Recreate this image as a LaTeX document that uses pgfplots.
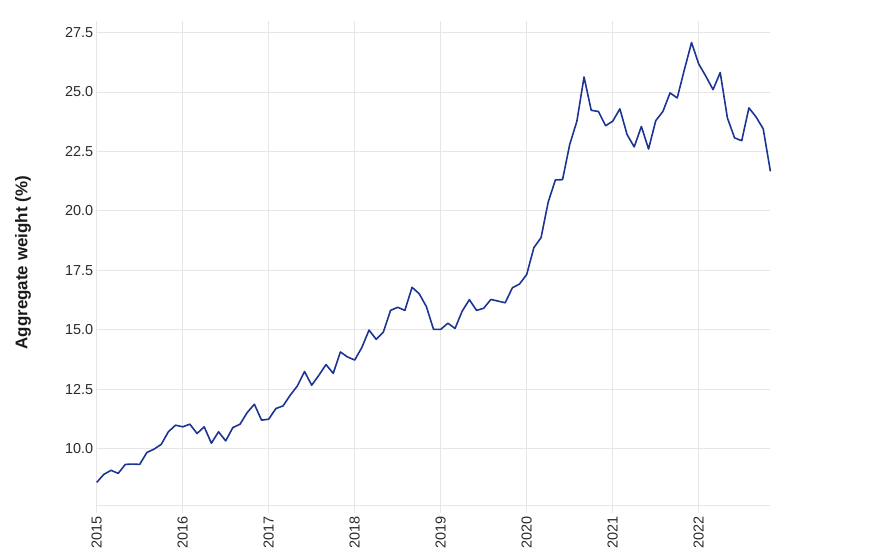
\documentclass[border=0pt]{standalone}
\usepackage{fontspec}
\setmainfont{Liberation Sans}
\usepackage{pgfplots}
\pgfplotsset{compat=1.18}
\usepackage{pgfplotstable}

\definecolor{seriesblue}{HTML}{1C3494}
\definecolor{gridgray}{HTML}{E6E6E6}
\definecolor{ticktext}{HTML}{2B2B2B}
\definecolor{labeltext}{HTML}{1A1A1A}

% month index (0 = Jan 2015), aggregate weight in %
\pgfplotstableread{
m v
0 8.57
1 8.91
2 9.08
3 8.95
4 9.33
5 9.34
6 9.33
7 9.83
8 9.97
9 10.17
10 10.70
11 10.98
12 10.91
13 11.02
14 10.63
15 10.91
16 10.22
17 10.70
18 10.32
19 10.88
20 11.02
21 11.51
22 11.86
23 11.19
24 11.23
25 11.68
26 11.79
27 12.24
28 12.63
29 13.24
30 12.66
31 13.08
32 13.53
33 13.16
34 14.06
35 13.85
36 13.72
37 14.25
38 14.98
39 14.59
40 14.90
41 15.81
42 15.94
43 15.81
44 16.78
45 16.51
46 15.97
47 15.01
48 15.01
49 15.27
50 15.05
51 15.78
52 16.26
53 15.81
54 15.90
55 16.27
56 16.20
57 16.13
58 16.76
59 16.92
60 17.32
61 18.45
62 18.87
63 20.37
64 21.30
65 21.31
66 22.79
67 23.77
68 25.63
69 24.23
70 24.18
71 23.58
72 23.77
73 24.29
74 23.21
75 22.69
76 23.55
77 22.60
78 23.79
79 24.18
80 24.96
81 24.75
82 25.94
83 27.08
84 26.18
85 25.66
86 25.10
87 25.82
88 23.91
89 23.07
90 22.95
91 24.33
92 23.95
93 23.45
94 21.66
}\weights

\begin{document}
\begin{tikzpicture}
\useasboundingbox (-96.7bp,-54bp) rectangle (773.3bp,505bp);
\begin{axis}[
  scale only axis,
  width=673.7bp,
  height=484.3bp,
  xmin=0, xmax=94,
  ymin=7.62, ymax=28.0,
  axis x line*=bottom,
  axis y line*=left,
  x axis line style={draw=gridgray, line width=0.8pt},
  y axis line style={draw=none},
  xtick={0,12,...,84},
  xticklabels={2015,2016,2017,2018,2019,2020,2021,2022},
  ytick={7.5,10,12.5,15,17.5,20,22.5,25,27.5},
  yticklabels={{},10.0,12.5,15.0,17.5,20.0,22.5,25.0,27.5},
  grid=major,
  major grid style={draw=gridgray, line width=0.8pt},
  tick align=outside,
  major tick length=7.7bp,
  xtick style={draw=gridgray, line width=0.8pt},
  ytick style={draw=none},
  /pgf/number format/assume math mode=true,
  ticklabel style={font=\fontsize{14.5}{16}\selectfont, text=ticktext},
  xticklabel style={rotate=90, anchor=east},
  yticklabel style={anchor=east, xshift=7.7bp},
  ylabel={Aggregate weight (\%)},
  every axis y label/.style={at={(axis description cs:0,0.5)}, xshift=-73.7bp, rotate=90, anchor=center,
    font=\fontsize{17}{20}\selectfont\bfseries, text=labeltext},
  clip=false,
]
\addplot[seriesblue, line width=1.6pt, line join=round] table[x=m, y=v] {\weights};
\end{axis}
\end{tikzpicture}
\end{document}
